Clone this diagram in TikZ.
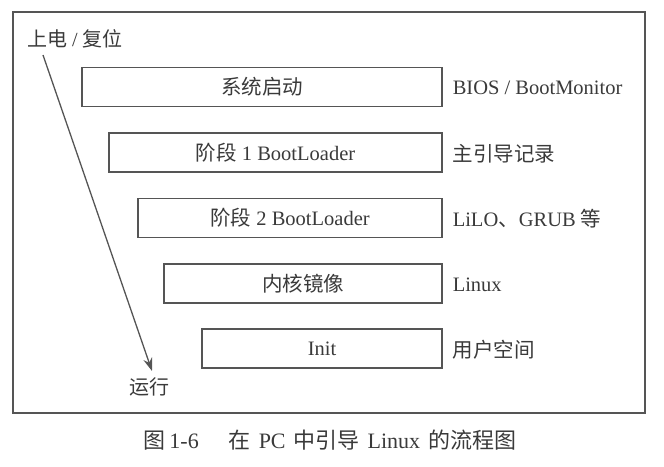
\documentclass[tikz,border=0pt]{standalone}
\usepackage{fontspec}
\setmainfont{Liberation Serif}
\newfontfamily\cjk{Noto Sans CJK SC}
\usetikzlibrary{arrows.meta}
\definecolor{ink}{HTML}{3A3A3A}
\definecolor{edge}{HTML}{555555}
\tikzset{
  stepbox/.style={draw=edge, line width=1.1pt, minimum height=39pt, inner sep=0pt,
    font=\fontsize{20.5}{23}\selectfont, text=ink},
  sidelabel/.style={anchor=west, inner sep=0pt, font=\fontsize{20.5}{23}\selectfont, text=ink},
  freelabel/.style={inner sep=0pt, font=\fontsize{20}{23}\selectfont, text=ink},
  flowarrow/.style={draw=edge, line width=1.3pt, -{Stealth[length=13pt,width=9pt]}}
}
\begin{document}
\begin{tikzpicture}[x=1pt,y=-1pt]
\useasboundingbox (0,0) rectangle (664,466);
\node[draw=edge, line width=1.1pt, minimum width=632pt, minimum height=401pt, inner sep=0pt] (frame) at (329,212.5) {};
\node[stepbox, minimum width=360pt] (b1) at (262,87) {\cjk 系统启动};
\node[stepbox, minimum width=333pt] (b2) at (275.5,152.5) {{\cjk 阶段} 1 BootLoader};
\node[stepbox, minimum width=304pt] (b3) at (290,218) {{\cjk 阶段} 2 BootLoader};
\node[stepbox, minimum width=278pt] (b4) at (303,283.5) {\cjk 内核镜像};
\node[stepbox, minimum width=240pt] (b5) at (322,348.5) {Init};
\node[sidelabel] (l1) at ([xshift=10pt,yshift=-1pt]b1.east) {BIOS / BootMonitor};
\node[sidelabel] (l2) at ([xshift=10pt,yshift=-1pt]b2.east) {\cjk 主引导记录};
\node[sidelabel] (l3) at ([xshift=10pt,yshift=-1pt]b3.east) {LiLO{\cjk 、}GRUB {\cjk 等}};
\node[sidelabel] (l4) at ([xshift=10pt,yshift=-1pt]b4.east) {Linux};
\node[sidelabel] (l5) at ([xshift=10pt,yshift=-1pt]b5.east) {\cjk 用户空间};
\node[freelabel] (on) at (75,39) {{\cjk 上电} / {\cjk 复位}};
\node[freelabel] (run) at (149,387) {\cjk 运行};
\coordinate (s) at (43,55);
\coordinate (e) at (152,371);
\draw[flowarrow] (s) -- (e);
\node[inner sep=0pt, font=\fontsize{22}{26}\selectfont, text=ink] (cap) at (330,440)
  {{\cjk 图}\,1-6\hspace{30pt}{\cjk 在}\hspace{8pt}PC\hspace{8pt}{\cjk 中引导}\hspace{8pt}Linux\hspace{8pt}{\cjk 的流程图}};
\end{tikzpicture}
\end{document}
